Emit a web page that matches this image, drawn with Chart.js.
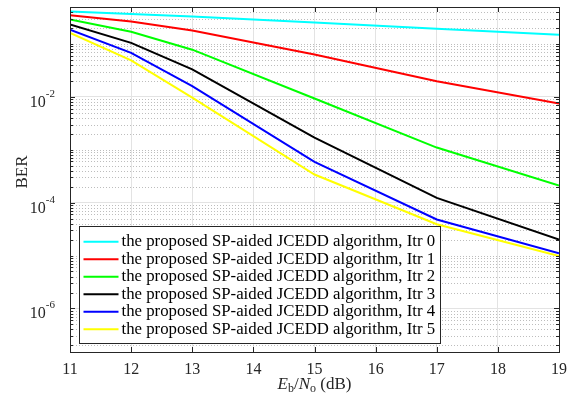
<!DOCTYPE html>
<html>
<head>
<meta charset="utf-8">
<script src="https://cdn.jsdelivr.net/npm/chart.js@4.4.1/dist/chart.umd.min.js"></script>
<style>
  html, body { margin: 0; padding: 0; background: #fff; }
  #wrap { width: 570px; height: 399px; }
</style>
</head>
<body>
<div id="wrap"><canvas id="berChart"></canvas></div>
<script>
// Eb/No points (dB)
const snr = [11, 12, 13, 15, 17, 19];

// BER per iteration
const itr0 = [0.41, 0.37, 0.33, 0.254, 0.195, 0.15];
const itr1 = [0.35, 0.265, 0.18, 0.063, 0.0197, 0.0075];
const itr2 = [0.29, 0.17, 0.078, 0.0093, 0.0011, 0.00021];
const itr3 = [0.233, 0.105, 0.033, 0.0017, 0.000123, 0.00002];
const itr4 = [0.187, 0.068, 0.016, 0.00059, 0.000048, 0.000011];
const itr5 = [0.162, 0.049, 0.0097, 0.00034, 0.000039, 0.0000098];

const seriesNames = [
  'the proposed SP-aided JCEDD algorithm, Itr 0',
  'the proposed SP-aided JCEDD algorithm, Itr 1',
  'the proposed SP-aided JCEDD algorithm, Itr 2',
  'the proposed SP-aided JCEDD algorithm, Itr 3',
  'the proposed SP-aided JCEDD algorithm, Itr 4',
  'the proposed SP-aided JCEDD algorithm, Itr 5'
];
const seriesColors = ['#00ffff', '#ff0000', '#00ff00', '#000000', '#0000ff', '#ffff00'];
const allSeries = [itr0, itr1, itr2, itr3, itr4, itr5];

// axis ranges and labelled ticks
const xTicks = [11, 12, 13, 14, 15, 16, 17, 18, 19];
const yExponents = [-2, -4, -6];
const yMin = 1.5e-7;
const yMax = 0.5;

const SERIF = '"Liberation Serif", "Times New Roman", serif';
const AXIS_COLOR = '#262626';

function minorValues() {
  let vals = [];
  for (let e = -8; e <= 0; e++) {
    for (let k = 1; k <= 9; k++) {
      const v = k * Math.pow(10, e);
      if (v >= yMin && v <= yMax) vals.push(v);
    }
  }
  return vals;
}

const matlabAxes = {
  id: 'matlabAxes',
  beforeDatasetsDraw(chart) {
    const ctx = chart.ctx;
    const area = chart.chartArea;
    const y = chart.scales.y;
    ctx.save();
    ctx.strokeStyle = '#bdbdbd';
    ctx.lineWidth = 1;
    ctx.setLineDash([1, 2]);
    minorValues().forEach(v => {
      if (yExponents.some(e => Math.abs(Math.log10(v) - e) < 1e-9)) return;
      const py = Math.round(y.getPixelForValue(v)) + 0.5;
      ctx.beginPath();
      ctx.moveTo(area.left, py);
      ctx.lineTo(area.right, py);
      ctx.stroke();
    });
    ctx.restore();
  },
  afterDraw(chart) {
    const ctx = chart.ctx;
    const area = chart.chartArea;
    const x = chart.scales.x;
    const y = chart.scales.y;

    ctx.save();
    ctx.strokeStyle = AXIS_COLOR;
    ctx.lineWidth = 1;

    // box
    ctx.strokeRect(Math.round(area.left) + 0.5, Math.round(area.top) + 0.5,
      Math.round(area.right - area.left), Math.round(area.bottom - area.top));

    // x ticks (inside, bottom and top)
    xTicks.forEach(t => {
      const px = Math.round(x.getPixelForValue(t)) + 0.5;
      ctx.beginPath();
      ctx.moveTo(px, area.bottom); ctx.lineTo(px, area.bottom - 5);
      ctx.moveTo(px, area.top); ctx.lineTo(px, area.top + 5);
      ctx.stroke();
    });

    // y minor ticks
    minorValues().forEach(v => {
      const py = Math.round(y.getPixelForValue(v)) + 0.5;
      ctx.beginPath();
      ctx.moveTo(area.left, py); ctx.lineTo(area.left + 3, py);
      ctx.moveTo(area.right, py); ctx.lineTo(area.right - 3, py);
      ctx.stroke();
    });

    // y major ticks + labels
    ctx.fillStyle = AXIS_COLOR;
    yExponents.forEach(e => {
      const py = Math.round(y.getPixelForValue(Math.pow(10, e))) + 0.5;
      ctx.beginPath();
      ctx.moveTo(area.left, py); ctx.lineTo(area.left + 5, py);
      ctx.moveTo(area.right, py); ctx.lineTo(area.right - 5, py);
      ctx.stroke();

      const expText = String(e);
      ctx.font = '11px ' + SERIF;
      const expW = ctx.measureText(expText).width;
      ctx.textBaseline = 'alphabetic';
      ctx.textAlign = 'left';
      const right = area.left - 15;
      ctx.fillText(expText, right - expW, py - 1);
      ctx.font = '16px ' + SERIF;
      const baseW = ctx.measureText('10').width;
      ctx.fillText('10', right - expW - baseW, py + 9);
    });

    // y title
    ctx.save();
    ctx.translate(27, 172);
    ctx.rotate(-Math.PI / 2);
    ctx.font = '17px ' + SERIF;
    ctx.textAlign = 'center';
    ctx.textBaseline = 'alphabetic';
    ctx.fillText('BER', 0, 0);
    ctx.restore();

    // x title: Eb/No (dB)
    const parts = [
      {t: 'E', f: 'italic 17px ' + SERIF, dy: 0},
      {t: 'b', f: '12px ' + SERIF, dy: 3},
      {t: '/', f: '17px ' + SERIF, dy: 0},
      {t: 'N', f: 'italic 17px ' + SERIF, dy: 0},
      {t: 'o', f: '12px ' + SERIF, dy: 3},
      {t: ' (dB)', f: '17px ' + SERIF, dy: 0}
    ];
    let total = 0;
    parts.forEach(p => { ctx.font = p.f; p.w = ctx.measureText(p.t).width; total += p.w; });
    let cx = (area.left + area.right) / 2 - total / 2;
    ctx.textAlign = 'left';
    parts.forEach(p => {
      ctx.font = p.f;
      ctx.fillText(p.t, cx, 389 + p.dy);
      cx += p.w;
    });

    // legend
    const lg = {left: 79.5, top: 226.5, right: 440.5, bottom: 343.5};
    ctx.fillStyle = '#ffffff';
    ctx.fillRect(lg.left, lg.top, lg.right - lg.left, lg.bottom - lg.top);
    ctx.strokeStyle = AXIS_COLOR;
    ctx.strokeRect(lg.left, lg.top, lg.right - lg.left, lg.bottom - lg.top);
    const rowH = (lg.bottom - lg.top - 12) / chart.data.datasets.length;
    ctx.font = '16.8px ' + SERIF;
    ctx.textBaseline = 'middle';
    chart.data.datasets.forEach((ds, i) => {
      const ry = lg.top + 6 + rowH * (i + 0.5) + 0.5;
      ctx.strokeStyle = ds.borderColor;
      ctx.lineWidth = 2;
      ctx.beginPath();
      ctx.moveTo(lg.left + 4, ry);
      ctx.lineTo(lg.left + 39, ry);
      ctx.stroke();
      ctx.fillStyle = '#000000';
      ctx.fillText(ds.label, lg.left + 42, ry);
    });
    ctx.restore();
  }
};

const datasets = allSeries.map((vals, i) => ({
  label: seriesNames[i],
  data: snr.map((s, j) => ({x: s, y: vals[j]})),
  borderColor: seriesColors[i],
  backgroundColor: seriesColors[i],
  borderWidth: 2,
  pointRadius: 0,
  tension: 0,
  order: allSeries.length - i
}));

const config = {
  type: 'line',
  data: {datasets: datasets},
  options: {
    responsive: true,
    maintainAspectRatio: false,
    devicePixelRatio: 1,
    animation: false,
    layout: {padding: {top: 7, right: 11, left: 0, bottom: 0}},
    plugins: {
      legend: {display: false},
      tooltip: {enabled: false}
    },
    scales: {
      x: {
        type: 'linear',
        min: 11,
        max: 19,
        afterBuildTicks: scale => { scale.ticks = xTicks.map(v => ({value: v})); },
        afterFit: scale => {
          scale.height = 47;
          scale.paddingLeft = 0;
          scale.paddingRight = 0;
        },
        ticks: {
          color: AXIS_COLOR,
          font: {family: SERIF, size: 16},
          padding: 8,
          maxRotation: 0
        },
        grid: {color: '#e3e3e3', drawTicks: false},
        border: {display: false}
      },
      y: {
        type: 'logarithmic',
        min: yMin,
        max: yMax,
        afterBuildTicks: scale => { scale.ticks = yExponents.map(e => ({value: Math.pow(10, e)})); },
        afterFit: scale => { scale.width = 70; },
        ticks: {display: false},
        grid: {color: '#e3e3e3', drawTicks: false},
        border: {display: false}
      }
    }
  },
  plugins: [matlabAxes]
};

let berChart = new Chart(document.getElementById('berChart').getContext('2d'), config);
</script>
</body>
</html>
